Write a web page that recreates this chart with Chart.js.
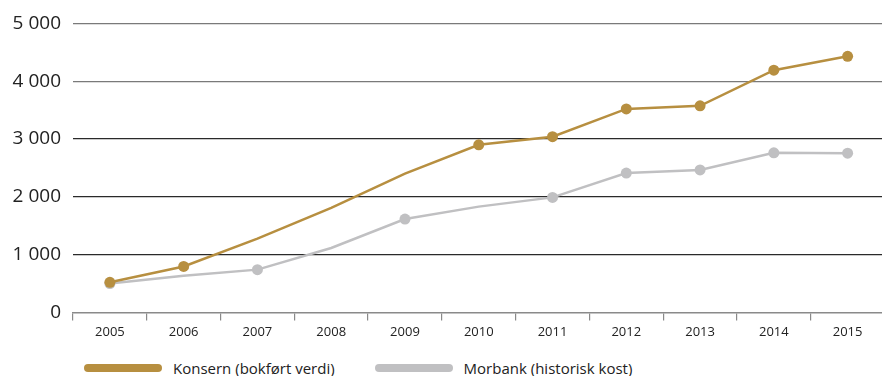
<!DOCTYPE html>
<html>
<head>
<meta charset="utf-8">
<script src="https://cdn.jsdelivr.net/npm/chart.js@4"></script>
<style>
  html, body { margin: 0; padding: 0; background: #fff; overflow: hidden; }
  #wrap { position: relative; width: 890px; height: 344px; }
  #legend { position: absolute; top: 358px; left: 84px; display: flex; font-family: 'Open Sans', sans-serif; font-size: 15px; color: #222; }
  .item { display: flex; align-items: center; margin-right: 40px; }
  .swatch { width: 78px; height: 8px; border-radius: 4px; margin-right: 11px; }
</style>
</head>
<body>
<div id="wrap"><canvas id="lineChart"></canvas></div>
<div id="legend"></div>
<script>
// Years on the x-axis
const years = ['2005', '2006', '2007', '2008', '2009', '2010', '2011', '2012', '2013', '2014', '2015'];

// Konsern (bokført verdi)
const konsern = [520, 795, 1275, 1810, 2400, 2900, 3040, 3520, 3575, 4190, 4430];
// Morbank (historisk kost)
const morbank = [500, 635, 740, 1115, 1615, 1830, 1990, 2410, 2465, 2760, 2755];

// Which years get a dot on each line
const konsernDots = [1, 1, 0, 0, 0, 1, 1, 1, 1, 1, 1];
const morbankDots = [1, 0, 1, 0, 1, 0, 1, 1, 1, 1, 1];

const gold = '#b78f40';
const grey = '#c0c0c2';

function fmt(v) {
    return String(v).replace(/\B(?=(\d{3})+(?!\d))/g, ' ');
}

const ctx = document.getElementById('lineChart').getContext('2d');
const chart = new Chart(ctx, {
    type: 'line',
    data: {
        labels: years,
        datasets: [
            {
                label: 'Morbank (historisk kost)',
                data: morbank,
                borderColor: grey,
                backgroundColor: grey,
                borderWidth: 2.5,
                pointRadius: morbankDots.map(d => d ? 5.5 : 0),
                pointBorderWidth: 0,
                tension: 0,
                order: 2
            },
            {
                label: 'Konsern (bokført verdi)',
                data: konsern,
                borderColor: gold,
                backgroundColor: gold,
                borderWidth: 2.5,
                pointRadius: konsernDots.map(d => d ? 5.5 : 0),
                pointBorderWidth: 0,
                tension: 0,
                order: 1
            }
        ]
    },
    options: {
        responsive: true,
        maintainAspectRatio: false,
        animation: false,
        layout: { padding: { top: 10, right: 1, bottom: 0, left: 0 } },
        plugins: {
            legend: { display: false },
            tooltip: { enabled: false }
        },
        scales: {
            x: {
                offset: true,
                grid: {
                    offset: true,
                    drawOnChartArea: false,
                    drawTicks: true,
                    tickLength: 8,
                    color: '#8a8a8a',
                    lineWidth: 1.2
                },
                border: { display: true, color: '#8a8a8a', width: 1.5 },
                ticks: {
                    color: '#222',
                    padding: 4,
                    font: { family: 'Open Sans', size: 13 },
                    maxRotation: 0
                }
            },
            y: {
                min: 0,
                max: 5000,
                afterFit: scale => { scale.width = 73; },
                grid: {
                    drawTicks: false,
                    color: c => c.tick.value === 0 ? 'rgba(0,0,0,0)' : (c.tick.value >= 4000 ? '#7a7a7a' : '#2a2a2a'),
                    lineWidth: 1.2
                },
                border: { display: false },
                ticks: {
                    stepSize: 1000,
                    padding: 12,
                    color: '#222',
                    font: { family: 'Open Sans', size: 19 },
                    callback: v => fmt(v)
                }
            }
        }
    }
});

// Legend drawn in the order Konsern, Morbank
const legend = document.getElementById('legend');
[chart.data.datasets[1], chart.data.datasets[0]].forEach(ds => {
    const item = document.createElement('div');
    item.className = 'item';
    const sw = document.createElement('span');
    sw.className = 'swatch';
    sw.style.background = ds.borderColor;
    const txt = document.createElement('span');
    txt.textContent = ds.label;
    item.appendChild(sw);
    item.appendChild(txt);
    legend.appendChild(item);
});
</script>
</body>
</html>
